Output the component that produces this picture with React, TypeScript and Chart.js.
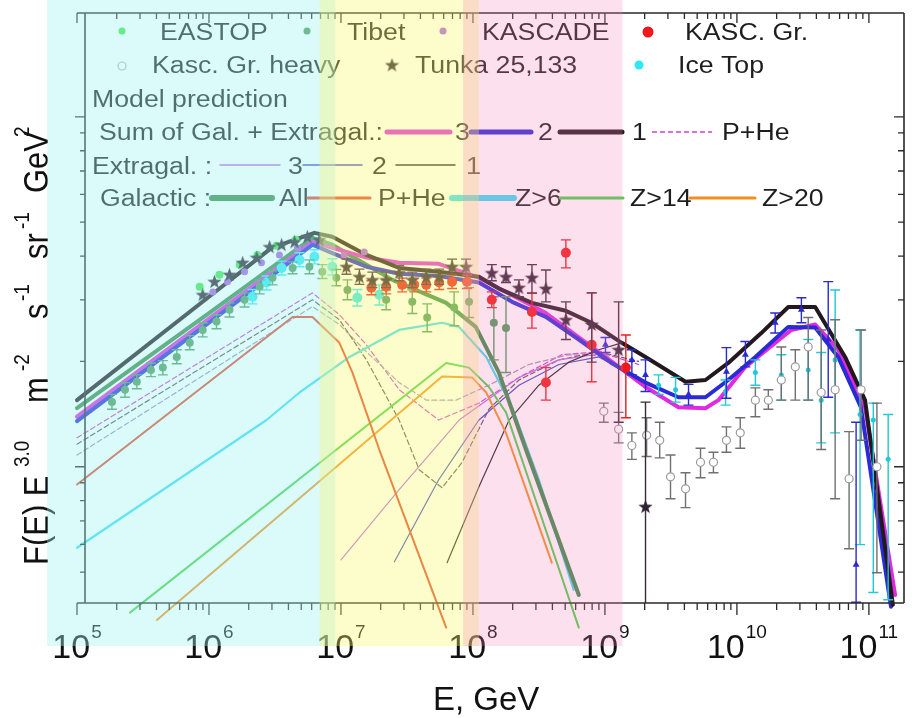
import React, { useEffect, useRef } from "react";
import { Chart, registerables } from "chart.js";

Chart.register(...registerables);

// Energies in GeV; fluxes are F(E)·E^3 in units of 10^6 m^-2 s^-1 sr^-1 GeV^2.

// ---- Model: sum of galactic + extragalactic (variants 1, 2, 3) ----
const sum1E = [1e5, 1e6, 2.98e6, 6.3e6, 8.6e6, 1.56e7, 2.76e7, 5.5e7, 1.11e8, 1.57e8, 2.8e8, 5.06e8, 7.9e8, 1.34e9, 2.03e9, 4.08e9, 5.78e9, 8.6e9, 1.53e10, 2.45e10, 3.92e10, 6.6e10, 9.35e10, 1.52e11];
const sum1F = [1.55, 3.06, 4.22, 4.66, 4.54, 4.03, 3.7, 3.61, 3.49, 3.23, 2.94, 2.79, 2.58, 2.26, 2.06, 1.75, 1.77, 1.98, 2.41, 2.86, 2.86, 2.06, 1.55, 0.403];
const sum2E = [1e5, 1e6, 2.98e6, 6.08e6, 8.6e6, 1.56e7, 2.76e7, 5.5e7, 1.11e8, 1.98e8, 3.57e8, 6.34e8, 1.12e9, 2.03e9, 3.61e9, 5.78e9, 8.6e9, 1.38e10, 2.45e10, 3.92e10, 5.85e10, 8.7e10, 1.47e11];
const sum2F = [1.35, 2.58, 3.51, 4.31, 4.08, 3.73, 3.56, 3.51, 3.36, 2.96, 2.68, 2.31, 1.98, 1.74, 1.58, 1.58, 1.77, 2.06, 2.51, 2.5, 2.06, 1.48, 0.398];
const sum3E = [1e5, 1e6, 6.08e6, 8.6e6, 1.56e7, 2.76e7, 5.5e7, 1.11e8, 3.57e8, 1.12e9, 2.03e9, 3.61e9, 5.78e9, 7.24e9, 1.16e10, 2.58e10, 3.92e10, 5.85e10, 9.35e10, 1.58e11];
const sum3F = [1.39, 2.65, 4.39, 4.22, 3.96, 3.83, 3.8, 3.47, 2.75, 2.0, 1.69, 1.48, 1.47, 1.55, 1.93, 2.46, 2.55, 2.16, 1.48, 0.43];

// ---- Model: galactic components ----
const galAllE = [1e5, 1e6, 6.08e6, 8.6e6, 1.56e7, 2.45e7, 6.27e7, 1.05e8, 1.57e8, 2.52e8, 6.34e8];
const galAllF = [1.47, 2.75, 4.51, 4.31, 3.78, 3.42, 2.94, 2.51, 1.86, 1.12, 0.43];
const galPHeE = [1e5, 4.3e6, 6.08e6, 9.73e6, 1.22e7, 1.95e7, 6.27e7];
const galPHeF = [0.89, 2.68, 2.68, 2.26, 1.86, 1.12, 0.347];
const galZ6E = [1e5, 2.73e6, 4.85e6, 1.16e7, 2.76e7, 5.84e7, 7.85e7, 1.26e8, 1.98e8, 3.16e8, 5.8e8];
const galZ6F = [0.587, 1.36, 1.63, 2.06, 2.46, 2.58, 2.51, 2.06, 1.48, 0.918, 0.445];
const galZ14E = [2.52e5, 6.27e7, 9.34e7, 1.32e8, 1.78e8, 6.34e8];
const galZ14F = [0.383, 1.98, 1.92, 1.69, 1.43, 0.347];
const galZ20E = [4.03e5, 5.84e7, 9.84e7, 1.26e8, 1.78e8, 3.96e8];
const galZ20F = [0.365, 1.81, 1.8, 1.63, 1.25, 0.532];

// ---- Model: extragalactic components ----
const ex1E = [6.37e7, 1.11e8, 1.88e8, 3.16e8, 5.32e8, 8.98e8, 1.34e9, 2.03e9, 4.08e9, 5.78e9, 8.6e9, 1.53e10, 2.45e10, 3.92e10, 6.6e10, 9.35e10, 1.52e11];
const ex1F = [0.532, 0.877, 1.36, 1.71, 1.99, 2.16, 2.26, 2.06, 1.75, 1.77, 1.98, 2.41, 2.86, 2.86, 2.06, 1.55, 0.403];
const ex2E = [2.54e7, 5.5e7, 1.11e8, 2.23e8, 4.48e8, 8.98e8, 2.03e9, 3.61e9, 5.78e9, 8.6e9, 1.38e10, 2.45e10, 3.92e10, 5.85e10, 8.7e10, 1.47e11];
const ex2F = [0.535, 0.918, 1.36, 1.71, 1.96, 2.06, 1.74, 1.58, 1.58, 1.77, 2.06, 2.51, 2.5, 2.06, 1.48, 0.398];
const ex3E = [1e7, 2.76e7, 7.85e7, 2.23e8, 4.48e8, 8.98e8, 2.03e9, 3.61e9, 5.78e9, 7.24e9, 1.16e10, 2.58e10, 3.92e10, 5.85e10, 9.35e10, 1.58e11];
const ex3F = [0.542, 0.86, 1.36, 1.8, 2.02, 2.1, 1.69, 1.48, 1.47, 1.55, 1.93, 2.46, 2.55, 2.16, 1.48, 0.43];

// ---- Model: P+He of the sums (dashed) ----
const pheAE = [1e5, 6.08e6, 9.73e6, 1.56e7, 2.76e7, 3.92e7, 5.84e7, 8.28e7, 1.32e8, 2.23e8, 4.48e8, 8.98e8, 1.8e9];
const pheAF = [1.16, 3.0, 2.63, 2.02, 1.36, 0.98, 0.871, 1.03, 1.46, 1.77, 2.02, 2.13, 2.0];
const pheBE = [1e5, 6.08e6, 9.73e6, 1.56e7, 2.76e7, 4.43e7, 7.45e7, 1.32e8, 2.65e8, 5.32e8, 1.07e9];
const pheBF = [1.08, 2.87, 2.55, 2.13, 1.74, 1.55, 1.55, 1.71, 1.96, 2.09, 2.07];
const pheCE = [1e5, 6.08e6, 9.73e6, 1.56e7, 2.76e7, 5.5e7, 1.11e8, 2.23e8, 4.71e8, 8.98e8, 1.8e9];
const pheCF = [1.21, 3.14, 2.72, 2.23, 1.66, 1.36, 1.52, 1.8, 2.09, 2.13, 1.96];

// ---- Measurements ----
const eastopE = [8.5e5, 1.2e6, 1.71e6, 2.33e6, 3.25e6, 4.52e6];
const eastopF = [3.27, 3.54, 3.78, 4.03, 4.28, 4.45];

const tibetE = [1.84e5, 2.31e5, 2.84e5, 3.63e5, 4.47e5, 5.7e5, 7.15e5, 8.96e5, 1.14e6, 1.43e6, 1.86e6, 2.42e6, 3.03e6, 4.3e6, 5.77e6, 7.23e6, 9.22e6, 1.12e7, 2.2e7, 3.47e7, 4.5e7, 7.2e7, 9.34e7, 1.44e8, 1.78e8];
const tibetF = [1.53, 1.66, 1.75, 1.89, 1.92, 2.06, 2.26, 2.46, 2.6, 2.81, 3.0, 3.27, 3.47, 3.7, 3.73, 3.61, 3.47, 3.2, 3.0, 2.96, 2.67, 2.85, 2.96, 2.58, 2.49];
const tibetLo = [1.46, 1.58, 1.67, 1.81, 1.83, 1.97, 2.16, 2.35, 2.48, 2.68, 2.86, 3.12, 3.31, 3.56, 3.56, 3.45, 3.29, 3.0, 2.81, 2.74, 2.43, 2.53, 2.67, 2.02, 1.86];
const tibetHi = [1.61, 1.74, 1.83, 1.98, 2.01, 2.16, 2.37, 2.58, 2.72, 2.94, 3.14, 3.42, 3.63, 3.85, 3.9, 3.78, 3.66, 3.42, 3.2, 3.2, 2.92, 3.16, 3.25, 3.06, 3.06];

const kascadeE = [1.07e6, 1.38e6, 1.86e6, 2.5e6, 3.42e6, 4.68e6, 1.06e7, 1.5e7];
const kascadeF = [3.16, 3.38, 3.61, 3.83, 4.03, 4.22, 4.03, 4.11];

const kgE = [1.7e7, 2.2e7, 2.91e7, 3.59e7, 4.43e7, 5.55e7, 6.95e7, 9.02e7, 1.39e8, 2.8e8, 3.57e8, 5.06e8, 7.94e8, 1.44e9];
const kgF = [3.25, 3.27, 3.31, 3.31, 3.31, 3.36, 3.38, 3.38, 3.0, 2.77, 1.74, 4.09, 2.23, 1.92];
const kgLo = [3.1, 3.12, 3.16, 3.16, 3.16, 3.21, 3.23, 3.23, 2.85, 2.49, 1.55, 3.7, 1.75, 1.38];
const kgHi = [3.4, 3.42, 3.46, 3.46, 3.46, 3.51, 3.53, 3.53, 3.16, 3.13, 1.92, 4.45, 3.14, 2.38];

const heavyE = [9.8e8, 1.27e9, 1.6e9, 2.07e9, 2.6e9, 3.14e9, 4.08e9, 5.3e9, 6.64e9, 8.33e9, 1.06e10, 1.38e10, 1.73e10, 2.17e10, 2.77e10, 3.47e10, 4.35e10, 5.55e10, 7.08e10, 8.73e10, 1.15e11];
const heavyF = [1.44, 1.28, 1.15, 1.23, 1.19, 0.936, 0.865, 1.03, 1.03, 1.19, 1.25, 1.55, 1.55, 1.77, 1.93, 2.2, 1.63, 1.66, 0.924, 1.66, 1.0];
const heavyLo = [1.34, 1.17, 1.05, 1.07, 1.06, 0.81, 0.764, 0.93, 0.961, 1.1, 1.13, 1.39, 1.46, 1.55, 1.55, 1.55, 1.12, 0.81, 0.583, 1.19, 0.498];
const heavyHi = [1.52, 1.43, 1.25, 1.38, 1.34, 1.08, 0.961, 1.13, 1.1, 1.3, 1.38, 1.68, 1.66, 2.2, 2.16, 2.67, 2.46, 2.63, 1.26, 2.46, 1.52];

const tunkaE = [8.96e5, 1.1e6, 1.43e6, 1.8e6, 2.3e6, 2.88e6, 3.55e6, 4.45e6, 5.57e6, 6.87e6, 1.1e7, 1.38e7, 1.73e7, 2.2e7, 2.76e7, 3.47e7, 4.43e7, 5.55e7, 6.95e7, 8.87e7, 1.39e8, 1.78e8, 2.23e8, 2.8e8, 3.57e8, 5.06e8, 7.94e8, 1.27e9, 2.03e9];
const tunkaF = [3.1, 3.38, 3.54, 3.83, 3.96, 4.25, 4.31, 4.39, 4.54, 4.45, 3.73, 3.49, 3.42, 3.42, 3.58, 3.42, 3.49, 3.49, 3.73, 3.73, 3.58, 3.49, 3.25, 3.47, 3.23, 2.63, 2.55, 2.16, 0.769];
const tunkaLo = [null, null, null, null, null, null, null, null, null, null, 3.55, 3.32, 3.25, 3.25, 3.4, 3.25, 3.32, 3.32, 3.55, 3.55, 3.4, 3.36, 3.06, 3.14, 2.96, 2.31, 1.99, 1.34, 0.4];
const tunkaHi = [null, null, null, null, null, null, null, null, null, null, 3.92, 3.67, 3.6, 3.6, 3.76, 3.6, 3.67, 3.67, 3.92, 3.92, 3.78, 3.73, 3.42, 3.78, 3.65, 2.96, 3.14, 2.96, 1.53];

const iceE = [2.14e6, 2.73e6, 3.55e6, 4.85e6, 6.3e6, 8.6e6, 1.33e7, 1.95e7];
const iceF = [3.06, 3.36, 3.7, 3.9, 3.98, 3.73, 3.04, 3.1];
const iceLo = [2.92, 3.2, 3.53, 3.73, 3.8, 3.53, 2.88, 2.9];
const iceHi = [3.21, 3.51, 3.87, 4.09, 4.17, 3.93, 3.21, 3.31];

const uheBlueE = [1.01e9, 1.6e9, 2.03e9, 4.3e9, 8.33e9, 1.16e10, 1.95e10, 3.08e10, 4.92e10, 8.0e10];
const uheBlueF = [2.23, 2.02, 1.83, 1.61, 1.87, 2.09, 2.58, 2.81, 2.31, 0.525];
const uheBlueLo = [2.12, 1.83, 1.64, 1.5, 1.57, 1.93, 2.41, 2.58, 1.58, 0.41];
const uheBlueHi = [2.34, 2.16, 2.02, 1.72, 2.19, 2.28, 2.75, 3.04, 3.38, 1.34];

const uheCyanE = [2.55e9, 3.43e9, 8.2e9, 1.38e10, 2.17e10, 3.47e10, 4.35e10, 5.55e10, 8.57e10, 1.08e11, 1.4e11];
const uheCyanF = [1.71, 1.66, 1.64, 1.86, 1.83, 1.89, 1.55, 2.02, 1.41, 1.36, 1.05];
const uheCyanLo = [1.61, 1.53, 1.5, 1.71, 1.55, 1.55, 1.17, 1.25, 0.599, 0.437, 0.417];
const uheCyanHi = [1.83, 1.8, 1.77, 2.02, 2.09, 2.31, 2.12, 3.2, 2.46, 1.52, 1.41];

// ---- Axes ----
const X_MIN = 1e5;
const X_MAX = 1.845e11;
const Y_MIN = 0.408;
const Y_MAX = 19.8;
const AXIS_LEFT_E = 1.15e5;
const xTickDecades = [5, 6, 7, 8, 9, 10, 11];
const xTickExponents = ["5", "6", "7", "8", "9", "10", "11"];

// Shaded energy ranges drawn as translucent layers over the whole figure
const bandFromE = [5.93e4, 6.87e6, 8.41e7];
const bandToE = [9.08e6, 1.11e8, 1.36e9];
const bandColors = ["rgba(160,241,241,0.38)", "rgba(249,246,112,0.36)", "rgba(247,131,187,0.25)"];

const FONT = '"Liberation Sans", Arial, sans-serif';

const C = {
  sum1: "#24181f",
  sum2: "#2b2bd6",
  sum3: "#e02ae0",
  galAll: "#3a8a4a",
  galPHe: "#e0482c",
  galZ6: "#3cdcf0",
  galZ14: "#48d048",
  galZ20: "#f09020",
  ex1: "#222222",
  ex2: "#3a4ac8",
  ex3: "#b868e0",
  pheA: "#555555",
  pheB: "#9a90b8",
  pheC: "#d040d0",
  eastop: "#3ee84a",
  tibet: "#4c9a5c",
  kascade: "#a860e0",
  kg: "#f01818",
  heavy: "#8a8a8a",
  tunka: "#2e2230",
  ice: "#30e8f0",
  uheBlue: "#2a2ad0",
  uheCyan: "#20c8d8",
};

const pts = (xs: number[], ys: number[]) => xs.map((x, i) => ({ x, y: ys[i] }));

function makeStar(size: number, color: string) {
  const c = document.createElement("canvas");
  c.width = size;
  c.height = size;
  const g = c.getContext("2d")!;
  g.beginPath();
  for (let i = 0; i < 10; i++) {
    const r = i % 2 === 0 ? size / 2 : size / 5;
    const a = -Math.PI / 2 + (i * Math.PI) / 5;
    g.lineTo(size / 2 + r * Math.cos(a), size / 2 + 0.5 + r * Math.sin(a));
  }
  g.closePath();
  g.fillStyle = color;
  g.fill();
  return c;
}

function curve(label: string, xs: number[], ys: number[], color: string, width: number, dash: number[] = []) {
  return {
    type: "line",
    label,
    data: pts(xs, ys),
    borderColor: color,
    backgroundColor: color,
    borderWidth: width,
    borderDash: dash,
    pointRadius: 0,
    fill: false,
    tension: 0,
    clip: false,
    showLine: true,
    borderJoinStyle: "round",
    borderCapStyle: "round",
  };
}

function marks(label: string, xs: number[], ys: number[], style: any, lo?: any[], hi?: any[], errColor?: string) {
  return {
    type: "scatter",
    label,
    data: pts(xs, ys),
    showLine: false,
    errLo: lo,
    errHi: hi,
    errColor,
    ...style,
  };
}

const errorBarPlugin = {
  id: "errorBars",
  beforeDatasetDraw(chart: any, args: any) {
    const ds = chart.data.datasets[args.index];
    if (!ds.errLo) return;
    const { ctx, chartArea: ca } = chart;
    const ys = chart.scales.y;
    ctx.save();
    ctx.beginPath();
    ctx.rect(ca.left, ca.top, ca.right - ca.left, ca.bottom - ca.top);
    ctx.clip();
    ctx.strokeStyle = ds.errColor || ds.borderColor;
    ctx.lineWidth = 1.4;
    args.meta.data.forEach((el: any, i: number) => {
      const lo = ds.errLo[i];
      const hi = ds.errHi[i];
      if (lo == null || hi == null) return;
      const x = el.x;
      const y1 = ys.getPixelForValue(lo);
      const y2 = ys.getPixelForValue(hi);
      ctx.beginPath();
      ctx.moveTo(x, y1);
      ctx.lineTo(x, y2);
      ctx.moveTo(x - 5, y1);
      ctx.lineTo(x + 5, y1);
      ctx.moveTo(x - 5, y2);
      ctx.lineTo(x + 5, y2);
      ctx.stroke();
    });
    ctx.restore();
  },
};

function text(ctx: CanvasRenderingContext2D, s: string, x: number, y: number, size: number, color = "#1e1e1e", sx = 1.16) {
  ctx.save();
  ctx.translate(x, y);
  ctx.scale(sx, 1);
  ctx.font = `${size}px ${FONT}`;
  ctx.fillStyle = color;
  ctx.textAlign = "left";
  ctx.textBaseline = "alphabetic";
  ctx.fillText(s, 0, 0);
  ctx.restore();
}

function seg(ctx: CanvasRenderingContext2D, x1: number, x2: number, y: number, color: string, w: number, dash: number[] = []) {
  ctx.save();
  ctx.strokeStyle = color;
  ctx.lineWidth = w;
  ctx.lineCap = dash.length ? "butt" : "round";
  ctx.setLineDash(dash);
  ctx.beginPath();
  ctx.moveTo(x1, y);
  ctx.lineTo(x2, y);
  ctx.stroke();
  ctx.restore();
}

function dot(ctx: CanvasRenderingContext2D, x: number, y: number, r: number, fill: string, stroke?: string) {
  ctx.save();
  ctx.beginPath();
  ctx.arc(x, y, r, 0, Math.PI * 2);
  ctx.fillStyle = fill;
  ctx.fill();
  if (stroke) {
    ctx.strokeStyle = stroke;
    ctx.lineWidth = 1.2;
    ctx.stroke();
  }
  ctx.restore();
}

function makeDecorPlugin(star: HTMLCanvasElement) {
  return {
    id: "decor",
    afterDraw(chart: any) {
      const { ctx, chartArea: ca } = chart;
      const xs = chart.scales.x;
      const ys = chart.scales.y;
      const X = (v: number) => xs.getPixelForValue(v);
      const Y = (v: number) => ys.getPixelForValue(v);
      const xl = X(AXIS_LEFT_E);

      ctx.save();
      // frame
      ctx.strokeStyle = "#2a2a2a";
      ctx.lineWidth = 1.6;
      ctx.beginPath();
      ctx.moveTo(ca.left, ca.bottom);
      ctx.lineTo(ca.right, ca.bottom);
      ctx.moveTo(ca.left, ca.top);
      ctx.lineTo(ca.right, ca.top);
      ctx.moveTo(xl, ca.top);
      ctx.lineTo(xl, ca.bottom);
      ctx.moveTo(ca.right, ca.top);
      ctx.lineTo(ca.right, ca.bottom);
      ctx.stroke();

      // ticks
      ctx.lineWidth = 1.3;
      ctx.beginPath();
      xTickDecades.forEach((d) => {
        for (let k = 1; k <= 9; k++) {
          const v = k * Math.pow(10, d);
          if (v < X_MIN || v > X_MAX) continue;
          const px = X(v);
          const major = k === 1;
          ctx.moveTo(px, ca.bottom);
          ctx.lineTo(px, ca.bottom + (major ? 12 : 7));
          ctx.moveTo(px, ca.top);
          ctx.lineTo(px, ca.top + (major ? 10 : 6));
        }
      });
      [0.1, 1, 10].forEach((dec) => {
        for (let k = 1; k <= 9; k++) {
          const v = k * dec;
          if (v < Y_MIN || v > Y_MAX) continue;
          const py = Y(v);
          const major = k === 1;
          ctx.moveTo(xl, py);
          ctx.lineTo(xl - (major ? 10 : 5), py);
          ctx.moveTo(ca.right, py);
          ctx.lineTo(ca.right - (major ? 10 : 6), py);
        }
      });
      ctx.stroke();

      // x tick labels: 10^n
      xTickDecades.forEach((d, i) => {
        const px = X(Math.pow(10, d));
        const exp = xTickExponents[i];
        ctx.font = `34px ${FONT}`;
        const w10 = ctx.measureText("10").width;
        ctx.font = `19px ${FONT}`;
        const we = ctx.measureText(exp).width;
        const x0 = px - (w10 + we + 1) / 2;
        ctx.fillStyle = "#111";
        ctx.font = `34px ${FONT}`;
        ctx.fillText("10", x0, 658);
        ctx.font = `19px ${FONT}`;
        ctx.fillText(exp, x0 + w10 + 1, 638);
      });

      // x title
      ctx.fillStyle = "#111";
      ctx.font = `33px ${FONT}`;
      ctx.fillText("E, GeV", 433, 710);

      // y title (rotated, slightly widened glyphs)
      ctx.save();
      ctx.translate(48, 565);
      ctx.rotate(-Math.PI / 2);
      ctx.scale(1, 1.16);
      const yPieces: [string, number, boolean][] = [
        ["F(E) E", 0, false],
        ["3.0", 98, true],
        ["m", 162, false],
        ["-2", 194, true],
        ["s", 246, false],
        ["-1", 264, true],
        ["sr", 306, false],
        ["-1", 336, true],
        ["GeV", 372, false],
        ["2", 428, true],
      ];
      yPieces.forEach(([s, off, sup]) => {
        ctx.font = sup ? `19px ${FONT}` : `31px ${FONT}`;
        ctx.fillStyle = "#111";
        ctx.fillText(s, off, sup ? -16 : 0);
      });
      ctx.restore();

      // legend
      const LS = 23;
      dot(ctx, 122, 31, 3.5, C.eastop);
      text(ctx, "EASTOP", 160, 40, LS);
      dot(ctx, 307, 31, 3.5, C.tibet);
      text(ctx, "Tibet", 347, 40, LS);
      dot(ctx, 443, 31, 3.5, C.kascade);
      text(ctx, "KASCADE", 482, 40, LS);
      dot(ctx, 648, 32, 5.5, C.kg);
      text(ctx, "KASC. Gr.", 685, 40, LS);

      dot(ctx, 122, 66, 4, "#ffffff", "#b0b0b0");
      text(ctx, "Kasc. Gr. heavy", 152, 73, LS);
      ctx.drawImage(star, 392 - star.width / 2, 65 - star.height / 2);
      text(ctx, "Tunka 25,133", 415, 73, LS);
      dot(ctx, 639, 65, 4.5, C.ice);
      text(ctx, "Ice Top", 678, 73, LS);

      text(ctx, "Model prediction", 92, 107, LS);

      text(ctx, "Sum of Gal. + Extragal.:", 99, 140, LS);
      seg(ctx, 387, 450, 132, C.sum3, 5);
      text(ctx, "3", 455, 140, LS);
      seg(ctx, 471, 531, 132, C.sum2, 5);
      text(ctx, "2", 538, 140, LS);
      seg(ctx, 560, 622, 132, C.sum1, 5);
      text(ctx, "1", 632, 140, LS);
      seg(ctx, 652, 712, 132, C.pheC, 1.5, [5, 3]);
      text(ctx, "P+He", 722, 140, LS);

      text(ctx, "Extragal. :", 92, 174, LS);
      seg(ctx, 220, 280, 165, C.ex3, 1.5);
      text(ctx, "3", 288, 174, LS);
      seg(ctx, 303, 362, 165, C.ex2, 1.5);
      text(ctx, "2", 372, 174, LS);
      seg(ctx, 396, 455, 165, C.ex1, 1.5);
      text(ctx, "1", 466, 174, LS);

      text(ctx, "Galactic :", 100, 206, LS);
      seg(ctx, 212, 272, 198, C.galAll, 6);
      text(ctx, "All", 279, 206, LS);
      seg(ctx, 308, 370, 198, C.galPHe, 3);
      text(ctx, "P+He", 378, 206, LS);
      seg(ctx, 452, 514, 198, C.galZ6, 6);
      text(ctx, "Z>6", 515, 206, LS);
      seg(ctx, 560, 623, 198, C.galZ14, 3);
      text(ctx, "Z>14", 630, 206, LS);
      seg(ctx, 690, 755, 198, C.galZ20, 3);
      text(ctx, "Z>20", 762, 206, LS);

      // translucent energy bands on top of everything
      bandFromE.forEach((from, i) => {
        const x1 = X(from);
        const x2 = X(bandToE[i]);
        ctx.fillStyle = bandColors[i];
        ctx.fillRect(x1, 0, x2 - x1, 646);
      });
      ctx.restore();
    },
  };
}

export default function App() {
  const ref = useRef<HTMLCanvasElement>(null);

  useEffect(() => {
    const canvas = ref.current;
    if (!canvas) return;
    const star = makeStar(15, C.tunka);

    const datasets: any[] = [
      marks("Tunka 25,133", tunkaE, tunkaF, { pointStyle: star, pointRadius: 7, borderColor: C.tunka, backgroundColor: C.tunka }, tunkaLo, tunkaHi, "#3a2a35"),
      marks("KASC. Gr.", kgE, kgF, { pointStyle: "circle", pointRadius: 5, borderWidth: 0, backgroundColor: C.kg, borderColor: C.kg }, kgLo, kgHi, C.kg),
      marks("EASTOP", eastopE, eastopF, { pointStyle: "circle", pointRadius: 4, borderWidth: 0, backgroundColor: C.eastop, borderColor: C.eastop }),
      marks("Tibet", tibetE, tibetF, { pointStyle: "circle", pointRadius: 4, borderWidth: 0, backgroundColor: C.tibet, borderColor: C.tibet }, tibetLo, tibetHi, C.tibet),
      marks("KASCADE", kascadeE, kascadeF, { pointStyle: "circle", pointRadius: 3.5, borderWidth: 0, backgroundColor: C.kascade, borderColor: C.kascade }),
      marks("Ice Top", iceE, iceF, { pointStyle: "circle", pointRadius: 5, borderWidth: 0, backgroundColor: C.ice, borderColor: C.ice }, iceLo, iceHi, C.ice),
      marks("Kasc. Gr. heavy", heavyE, heavyF, { pointStyle: "circle", pointRadius: 4, borderWidth: 1.2, backgroundColor: "#ffffff", borderColor: "#9a9a9a" }, heavyLo, heavyHi, "#707070"),
      marks("UHE blue", uheBlueE, uheBlueF, { pointStyle: "triangle", pointRadius: 4, borderWidth: 0, backgroundColor: C.uheBlue, borderColor: C.uheBlue }, uheBlueLo, uheBlueHi, C.uheBlue),
      marks("UHE cyan", uheCyanE, uheCyanF, { pointStyle: "circle", pointRadius: 2.5, borderWidth: 0, backgroundColor: C.uheCyan, borderColor: C.uheCyan }, uheCyanLo, uheCyanHi, C.uheCyan),

      curve("Sum 1", sum1E, sum1F, C.sum1, 4),
      curve("Sum 2", sum2E, sum2F, C.sum2, 4),
      curve("Sum 3", sum3E, sum3F, C.sum3, 4),
      curve("Galactic All", galAllE, galAllF, C.galAll, 4),
      curve("Galactic P+He", galPHeE, galPHeF, C.galPHe, 2),
      curve("Galactic Z>6", galZ6E, galZ6F, C.galZ6, 2.2),
      curve("Galactic Z>14", galZ14E, galZ14F, C.galZ14, 2),
      curve("Galactic Z>20", galZ20E, galZ20F, C.galZ20, 2),
      curve("Extragal. 1", ex1E, ex1F, C.ex1, 1.2),
      curve("Extragal. 2", ex2E, ex2F, C.ex2, 1.2),
      curve("Extragal. 3", ex3E, ex3F, C.ex3, 1.2),
      curve("P+He 1", pheAE, pheAF, C.pheA, 1.2, [5, 3]),
      curve("P+He 2", pheBE, pheBF, C.pheB, 1.2, [5, 3]),
      curve("P+He 3", pheCE, pheCF, C.pheC, 1.2, [5, 3]),
    ];

    const chart = new Chart(canvas, {
      type: "scatter",
      data: { datasets },
      options: {
        responsive: false,
        animation: false,
        events: [],
        layout: { padding: { left: 77, right: 6, top: 13, bottom: 115 } },
        scales: {
          x: { type: "logarithmic", min: X_MIN, max: X_MAX, display: false },
          y: { type: "logarithmic", min: Y_MIN, max: Y_MAX, display: false },
        },
        plugins: {
          legend: { display: false },
          tooltip: { enabled: false },
        },
      },
      plugins: [errorBarPlugin, makeDecorPlugin(star)],
    } as any);

    return () => chart.destroy();
  }, []);

  return (
    <div style={{ position: "absolute", left: 0, top: 0, width: 912, height: 718, background: "#ffffff" }}>
      <canvas ref={ref} width={912} height={718} style={{ display: "block", width: 912, height: 718 }} />
    </div>
  );
}
